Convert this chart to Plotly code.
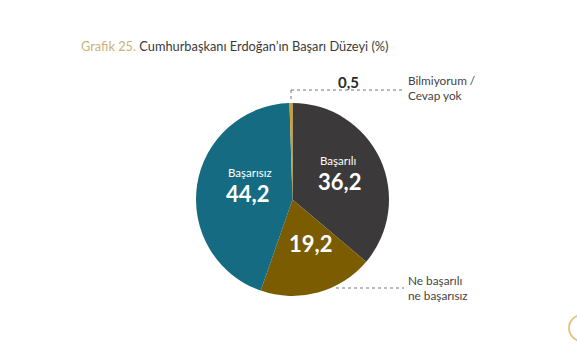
import plotly.graph_objects as go

categories = ["Başarılı", "Ne başarılı ne başarısız", "Başarısız", "Bilmiyorum / Cevap yok"]
values = [36.2, 19.2, 44.2, 0.5]
value_labels = ["36,2", "19,2", "44,2", "0,5"]
colors = ["#3b393a", "#7b5c00", "#146b82", "#c9a02a"]

W, H = 577, 354
cx, cy, r = 292.5, 199.5, 96.5

def px(x):
    return x / W

def py(y):
    return 1 - y / H

fig = go.Figure()
fig.add_trace(go.Pie(
    labels=categories,
    values=values,
    sort=False,
    direction="clockwise",
    rotation=0,
    marker=dict(colors=colors, line=dict(width=0)),
    textinfo="none",
    hoverinfo="label+value",
    showlegend=False,
    domain=dict(x=[px(cx - r), px(cx + r)], y=[py(cy + r), py(cy - r)]),
))

font = "Lato, 'Open Sans', sans-serif"
ann = []
# title
ann.append(dict(x=px(79), y=py(46), xref="paper", yref="paper", xanchor="left", yanchor="middle",
                text="<span style='color:#c9b27a'>Grafik 25.</span> Cumhurbaşkanı Erdoğan’ın Başarı Düzeyi (%)",
                showarrow=False, font=dict(family=font, size=12.8, color="#3a3a3a")))
# inside labels
ann.append(dict(x=px(338), y=py(160), xref="paper", yref="paper", text=categories[0], showarrow=False,
                font=dict(family=font, size=11.5, color="white")))
ann.append(dict(x=px(339), y=py(181), xref="paper", yref="paper", text="<b>" + value_labels[0] + "</b>", showarrow=False,
                font=dict(family=font, size=22, color="white")))
ann.append(dict(x=px(250), y=py(172), xref="paper", yref="paper", text=categories[2], showarrow=False,
                font=dict(family=font, size=11.5, color="white")))
ann.append(dict(x=px(247), y=py(193), xref="paper", yref="paper", text="<b>" + value_labels[2] + "</b>", showarrow=False,
                font=dict(family=font, size=22, color="white")))
ann.append(dict(x=px(310), y=py(259), xref="paper", yref="paper", text="<b>" + value_labels[1] + "</b>", showarrow=False,
                font=dict(family=font, size=22, color="white")))
# outside labels
ann.append(dict(x=px(348), y=py(82), xref="paper", yref="paper", yanchor="middle", text="<b>" + value_labels[3] + "</b>",
                showarrow=False, font=dict(family=font, size=15, color="#2a2a2a")))
ann.append(dict(x=px(406), y=py(88), xref="paper", yref="paper", xanchor="left", yanchor="middle",
                text="Bilmiyorum /<br>Cevap yok", showarrow=False, align="left",
                font=dict(family=font, size=11.8, color="#444444")))
ann.append(dict(x=px(406), y=py(288), xref="paper", yref="paper", xanchor="left", yanchor="middle",
                text="Ne başarılı<br>ne başarısız", showarrow=False, align="left",
                font=dict(family=font, size=11.8, color="#444444")))

line_style = dict(color="#777777", width=1, dash="dot")
shapes = [
    dict(type="line", xref="paper", yref="paper", x0=px(291), y0=py(99), x1=px(291), y1=py(90), line=line_style),
    dict(type="line", xref="paper", yref="paper", x0=px(291), y0=py(90), x1=px(403), y1=py(90), line=line_style),
    dict(type="line", xref="paper", yref="paper", x0=px(336), y0=py(288), x1=px(404), y1=py(288), line=line_style),
    dict(type="circle", xref="paper", yref="paper", x0=px(569), y0=py(341), x1=px(595), y1=py(315),
         line=dict(color="#e2c888", width=2)),
]

fig.update_layout(
    width=W, height=H,
    margin=dict(l=0, r=0, t=0, b=0),
    paper_bgcolor="white", plot_bgcolor="white",
    annotations=ann, shapes=shapes,
)
fig.write_html("out.html")
